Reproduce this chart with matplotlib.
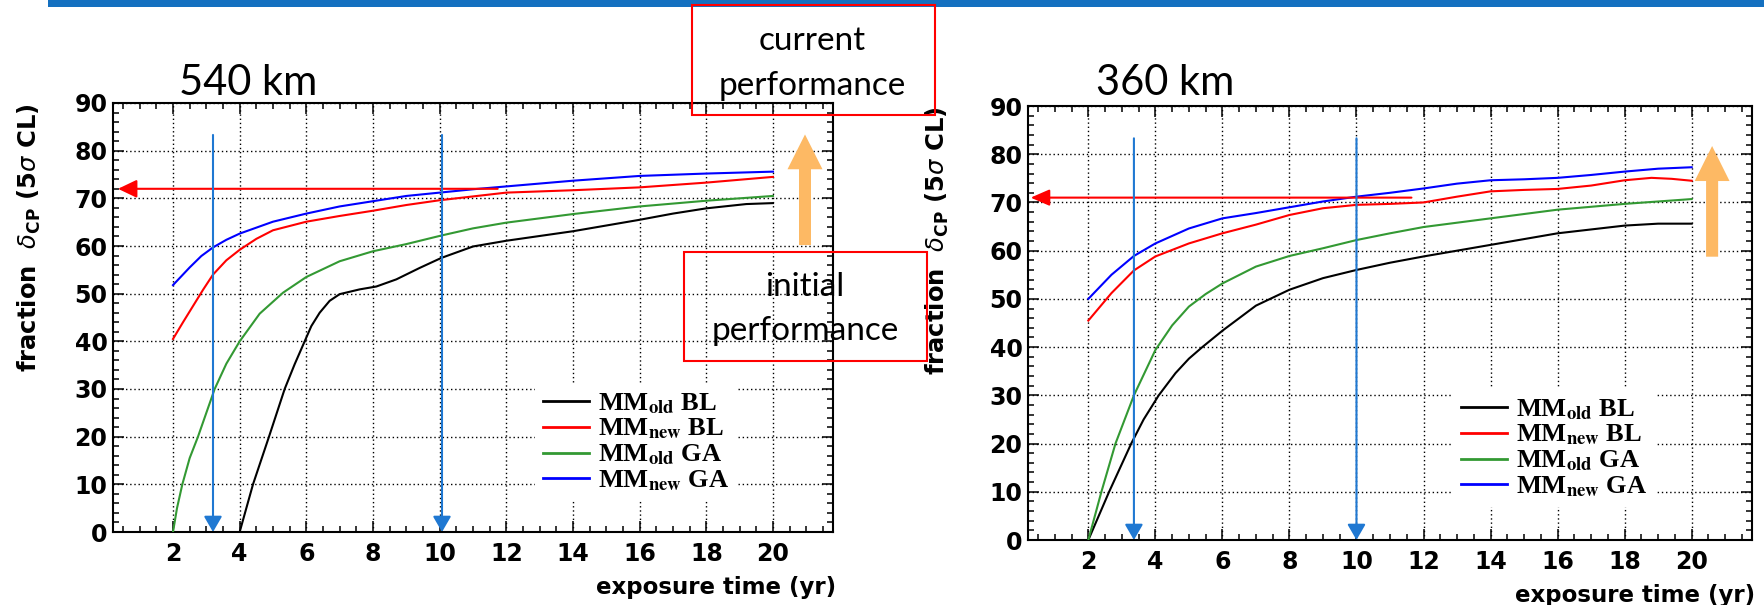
import matplotlib
matplotlib.use("Agg")
import matplotlib.pyplot as plt
from matplotlib.patches import Rectangle, FancyArrow
from matplotlib.lines import Line2D
from matplotlib.ticker import MultipleLocator
from matplotlib.font_manager import FontProperties

# Dados (fração de delta_CP com 5 sigma vs tempo de exposição)
# 540 km
x_old_bl_540 = [4.0, 4.4, 4.88, 5.35, 5.65, 5.95, 6.15, 6.4, 6.7, 7.0, 7.6, 8.1, 8.7, 9.4, 10.05, 11.0, 12.0, 13.0, 14.0, 15.0, 16.0, 17.0, 18.0, 19.2, 20.0]
y_old_bl_540 = [0, 10, 20, 30, 35.2, 40, 43.2, 46, 48.5, 49.9, 50.9, 51.5, 53.0, 55.4, 57.5, 59.9, 61.1, 62.1, 63.1, 64.3, 65.5, 66.8, 67.9, 68.8, 69.0]
x_new_bl_540 = [2.0, 2.3, 2.6, 2.9, 3.2, 3.6, 4.0, 4.5, 5.0, 6.0, 7.0, 8.0, 9.0, 10.0, 11.0, 12.0, 14.0, 16.0, 18.0, 20.0]
y_new_bl_540 = [40.5, 44.0, 47.4, 50.8, 54.0, 57.0, 59.2, 61.5, 63.3, 65.1, 66.3, 67.4, 68.6, 69.6, 70.4, 71.2, 71.7, 72.3, 73.3, 74.5]
x_old_ga_540 = [2.0, 2.12, 2.28, 2.5, 2.75, 3.25, 3.6, 4.0, 4.6, 5.3, 6.0, 7.0, 8.0, 9.0, 10.05, 11.0, 12.0, 14.0, 16.0, 18.0, 20.0]
y_old_ga_540 = [0, 5, 10, 15.5, 20, 30, 35.3, 40, 45.8, 50.2, 53.5, 56.8, 58.9, 60.4, 62.2, 63.7, 64.9, 66.7, 68.3, 69.5, 70.5]
x_new_ga_540 = [2.0, 2.5, 2.85, 3.2, 3.6, 4.0, 5.0, 6.0, 7.0, 8.0, 9.0, 10.0, 11.0, 12.0, 14.0, 16.0, 18.0, 20.0]
y_new_ga_540 = [51.8, 55.5, 57.9, 59.7, 61.3, 62.6, 65.1, 66.8, 68.3, 69.4, 70.5, 71.2, 71.9, 72.5, 73.7, 74.7, 75.2, 75.6]

# 360 km
x_old_bl_360 = [2.0, 2.62, 3.28, 3.65, 4.1, 4.6, 5.0, 5.4, 6.0, 7.0, 8.0, 9.0, 10.0, 11.0, 12.0, 14.0, 16.0, 18.0, 19.0, 20.0]
y_old_bl_360 = [0, 10, 20, 25, 30, 34.6, 37.6, 40, 43.4, 48.6, 51.9, 54.3, 56.0, 57.5, 58.8, 61.2, 63.6, 65.2, 65.6, 65.6]
x_new_bl_360 = [2.0, 2.69, 3.36, 4.0, 5.0, 6.0, 7.0, 8.0, 9.0, 10.0, 11.0, 12.0, 12.5, 13.0, 14.0, 15.0, 16.0, 17.0, 18.0, 18.8, 19.4, 20.0]
y_new_bl_360 = [45.5, 51.2, 55.9, 58.8, 61.5, 63.6, 65.4, 67.4, 68.8, 69.5, 69.7, 70.0, 70.6, 71.2, 72.3, 72.6, 72.8, 73.5, 74.6, 75.1, 74.9, 74.5]
x_old_ga_360 = [2.0, 2.39, 2.81, 3.36, 4.0, 4.5, 5.0, 5.5, 6.0, 7.0, 8.0, 9.0, 10.0, 11.0, 12.0, 14.0, 16.0, 18.0, 20.0]
y_old_ga_360 = [0, 10, 20, 30, 39.4, 44.5, 48.4, 51.0, 53.2, 56.7, 58.9, 60.5, 62.2, 63.6, 64.9, 66.7, 68.5, 69.7, 70.7]
x_new_ga_360 = [2.0, 2.69, 3.36, 4.0, 5.0, 6.0, 7.0, 8.0, 9.0, 10.0, 11.0, 12.0, 13.0, 14.0, 15.0, 16.0, 17.0, 18.0, 19.0, 20.0]
y_new_ga_360 = [50.0, 55.0, 58.9, 61.5, 64.6, 66.7, 67.8, 69.0, 70.2, 71.2, 72.0, 72.9, 73.9, 74.6, 74.8, 75.1, 75.7, 76.4, 77.0, 77.3]

rotulos = [r"MM$_{\mathbf{old}}$ BL", r"MM$_{\mathbf{new}}$ BL", r"MM$_{\mathbf{old}}$ GA", r"MM$_{\mathbf{new}}$ GA"]
cores = ["black", "#ff0000", "#339933", "#0000ff"]

W, H = 1765, 605


def px(x, y):
    # converte pixel (origem no topo) para fração da figura
    return x / W, 1 - y / H


fig = plt.figure(figsize=(W / 100, H / 100), dpi=100)
fig.patch.set_facecolor("white")

# faixa azul no topo
fig.add_artist(Rectangle(px(48, 7), 1 - 48 / W, 7 / H, transform=fig.transFigure,
                         facecolor="#1470c0", edgecolor="none"))

ax1 = fig.add_axes([113 / W, 1 - 532 / H, 720 / W, 429 / H])
ax2 = fig.add_axes([1028 / W, 1 - 540 / H, 724 / W, 434 / H])

fonte_leg = FontProperties(family="Liberation Serif", weight="bold", size=19, math_fontfamily="stix")


def desenhar(ax, series, leg_pos, ylab_x):
    for (x, y), c in zip(series, cores):
        ax.plot(x, y, color=c, lw=1.5, zorder=3)
    ax.set_xlim(0.2, 21.8)
    ax.set_ylim(0, 90)
    ax.xaxis.set_major_locator(MultipleLocator(2))
    ax.xaxis.set_minor_locator(MultipleLocator(0.5))
    ax.yaxis.set_major_locator(MultipleLocator(10))
    ax.yaxis.set_minor_locator(MultipleLocator(2))
    ax.set_xticks(range(2, 21, 2))
    ax.grid(True, which="major", color="black", linestyle=(0, (1, 2)), lw=1.0)
    ax.tick_params(which="both", direction="in", top=True, right=True, width=1.1)
    ax.tick_params(which="major", length=8, labelsize=17, pad=4)
    ax.tick_params(axis="x", which="major", pad=7)
    ax.tick_params(which="minor", length=4.5)
    for lab in ax.get_xticklabels() + ax.get_yticklabels():
        lab.set_fontweight("bold")
    for s in ax.spines.values():
        s.set_linewidth(1.5)
    ax.set_xlabel("exposure time (yr)", fontsize=16.5, fontweight="bold", loc="right")
    ax.xaxis.set_label_coords(1.004, -0.102)
    ax.set_ylabel(r"fraction  $\delta_{\mathbf{CP}}$ (5$\sigma$ CL)", fontsize=17.5,
                  fontweight="bold", loc="top")
    ax.yaxis.set_label_coords(ylab_x, 1.0)
    handles = [Line2D([], [], color=c, lw=2) for c in cores]
    ax.legend(handles, rotulos, loc="upper left", bbox_to_anchor=leg_pos,
              bbox_transform=fig.transFigure, prop=fonte_leg, frameon=True,
              fancybox=False, edgecolor="none", facecolor="white", framealpha=1,
              borderpad=0.3, borderaxespad=0, handlelength=1.75, handletextpad=0.35,
              labelspacing=0.05)


desenhar(ax1, [(x_old_bl_540, y_old_bl_540), (x_new_bl_540, y_new_bl_540),
               (x_old_ga_540, y_old_ga_540), (x_new_ga_540, y_new_ga_540)],
         px(535, 383), -0.097)
desenhar(ax2, [(x_old_bl_360, y_old_bl_360), (x_new_bl_360, y_new_bl_360),
               (x_old_ga_360, y_old_ga_360), (x_new_ga_360, y_new_ga_360)],
         px(1453, 389), -0.107)

# setas vermelhas horizontais
ax1.annotate("", xy=(0.35, 72), xytext=(11.74, 72),
             arrowprops=dict(arrowstyle="-|>,head_length=1.15,head_width=0.55", color="red",
                             lw=1.5, mutation_scale=10, shrinkA=0, shrinkB=0), zorder=4)
ax2.annotate("", xy=(0.28, 71), xytext=(11.64, 71),
             arrowprops=dict(arrowstyle="-|>,head_length=1.15,head_width=0.5", color="red",
                             lw=1.5, mutation_scale=10, shrinkA=0, shrinkB=0), zorder=4)

# setas azuis verticais
azul = "#1f78d2"
for ax, xs in [(ax1, [3.2, 10.07]), (ax2, [3.36, 10.0])]:
    for xv in xs:
        ax.annotate("", xy=(xv, 0), xytext=(xv, 83.3),
                    arrowprops=dict(arrowstyle="-|>,head_length=0.95,head_width=0.55", color=azul,
                                    lw=1.5, mutation_scale=10, shrinkA=0, shrinkB=0), zorder=4)

# setas laranja
laranja = "#fdb964"
ax1.add_patch(FancyArrow(20.96, 60.2, 0, 23.2, width=0.36, head_width=1.05, head_length=7.3,
                         length_includes_head=True, color=laranja, ec="none", zorder=4))
ax2.add_patch(FancyArrow(20.61, 58.75, 0, 22.95, width=0.36, head_width=1.04, head_length=7.26,
                         length_includes_head=True, color=laranja, ec="none", zorder=4))

# títulos
fig.text(*px(179, 95), "540 km", fontsize=30, family="Lato", va="baseline")
fig.text(*px(1096, 95), "360 km", fontsize=30, family="Lato", va="baseline")

# caixas vermelhas
fig.add_artist(Rectangle(px(692, 115), 243 / W, 110 / H, transform=fig.transFigure,
                         fill=False, edgecolor="red", lw=1.5, zorder=6))
fig.add_artist(Rectangle(px(684, 361), 243 / W, 109 / H, transform=fig.transFigure,
                         fill=False, edgecolor="red", lw=1.5, zorder=6))
fig.text(*px(812, 50), "current", fontsize=24, family="Lato", ha="center", va="baseline", zorder=7)
fig.text(*px(812, 95), "performance", fontsize=24, family="Lato", ha="center", va="baseline", zorder=7)
fig.text(*px(805, 296), "initial", fontsize=24, family="Lato", ha="center", va="baseline", zorder=7)
fig.text(*px(805, 340), "performance", fontsize=24, family="Lato", ha="center", va="baseline", zorder=7)

fig.savefig("out.png", dpi=100)
